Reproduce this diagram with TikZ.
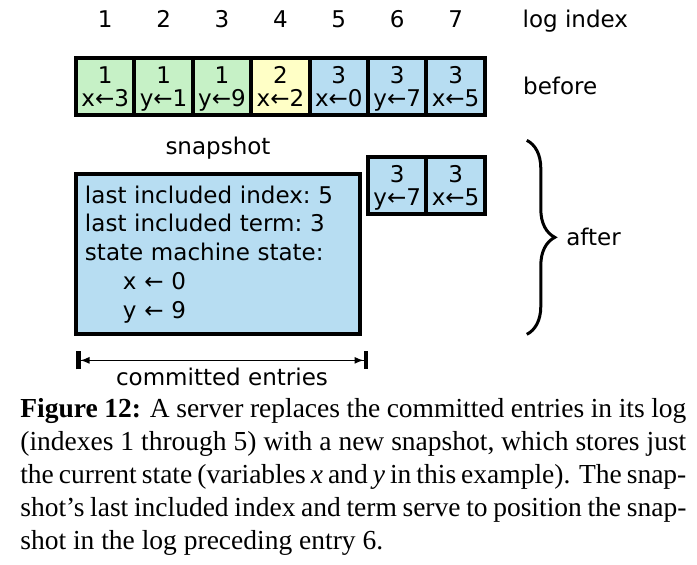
\documentclass[tikz,border=0pt]{standalone}
\usepackage{fontspec}
\setmainfont{Liberation Serif}
\newfontfamily\diagfont{DejaVu Sans}
\usepackage{tikz}
\usetikzlibrary{positioning, arrows.meta, calc, decorations.pathreplacing}
\definecolor{termOne}{HTML}{C6F1C6}
\definecolor{termTwo}{HTML}{FFFFC6}
\definecolor{termThree}{HTML}{B7DDF2}
\newcommand{\cellfont}{\diagfont\fontsize{13.1}{13.1}\selectfont}
\newcommand{\snapfont}{\diagfont\fontsize{13.1}{16.4}\selectfont\frenchspacing}
\newcommand{\capfont}{\fontsize{15.65}{18.78}\selectfont}
\tikzset{
  entry/.style={draw, line width=0.08cm, minimum width=1.168cm, minimum height=1.14cm,
    inner sep=0pt, outer sep=0pt, align=center, font=\cellfont, text depth=0pt},
  entryA/.style={entry, fill=termOne},
  entryB/.style={entry, fill=termTwo},
  entryC/.style={entry, fill=termThree},
  lbl/.style={inner sep=0pt, font=\cellfont},
  snapbox/.style={draw, line width=0.08cm, fill=termThree, text width=5.32cm,
    inner xsep=0.18cm, inner ysep=0pt, minimum height=3.2cm, outer sep=0pt,
    align=left, font=\snapfont},
  bracket/.style={decorate, decoration={brace, amplitude=0.56cm}, line width=0.06cm},
  spanarrow/.style={line width=0.6pt,
    {Bar[width=0.36cm,line width=0.09cm]Latex[length=0.18cm,width=0.14cm]}-{Latex[length=0.18cm,width=0.14cm]Bar[width=0.36cm,line width=0.09cm]}},
}

\begin{document}
\begin{tikzpicture}[>=Stealth]
  \useasboundingbox (0,0) rectangle (13.94,-11.3);
  % log before
  \node[entryA] (c1) at (2.104,-1.727) {1\\x←3};
  \node[entryA, right=0pt of c1] (c2) {1\\y←1};
  \node[entryA, right=0pt of c2] (c3) {1\\y←9};
  \node[entryB, right=0pt of c3] (c4) {2\\x←2};
  \node[entryC, right=0pt of c4] (c5) {3\\x←0};
  \node[entryC, right=0pt of c5] (c6) {3\\y←7};
  \node[entryC, right=0pt of c6] (c7) {3\\x←5};
  \foreach \i in {1,...,7}
    \node[lbl, above=0.6cm of c\i] (i\i) {\i};
  \node[lbl, anchor=base west] (logidx) at ($(i7.base east)+(1.18,0)$) {log index};
  \node[lbl, right=0.76cm of c7] (before) {before};

  % log after
  \node[entryC, below=0.85cm of c6] (a6) {3\\y←7};
  \node[entryC, right=0pt of a6] (a7) {3\\x←5};
  \node[snapbox, anchor=north west] (snap) at ($(a6.north -| c1.west)+(0,-0.34)$)
    {last included index: 5\\last included term: 3\\state machine state:\\
     \hspace*{0.76cm}x ← 0\\\hspace*{0.76cm}y ← 9};
  \node[lbl, above=0.29cm of snap] (snaplbl) {snapshot};

  \coordinate (bt) at ($(a7.north east)+(0.84,0.34)$);
  \coordinate (bb) at (bt |- snap.south);
  \draw[bracket] (bt) -- node[lbl, right=0.76cm] (after) {after} (bb);

  \coordinate (cl) at ($(snap.south west)+(0,-0.52)$);
  \coordinate (cr) at (cl -| a6.west);
  \draw[spanarrow] (cl) -- node[lbl, below=0.15cm] (commit) {committed entries} (cr);

  \node[anchor=north west, text width=13.32cm, align=justify, inner sep=0pt,
    font=\capfont] (caption) at (0.4,-7.96)
    {\textbf{Figure 12:} A server replaces the committed entries in its log\linebreak
     (indexes 1 through 5) with a new snapshot, which stores just\linebreak
     the current state (variables \textit{x} and \textit{y} in this example). The snap-\linebreak
     shot’s last included index and term serve to position the snap-\linebreak
     shot in the log preceding entry 6.};
\end{tikzpicture}
\end{document}
